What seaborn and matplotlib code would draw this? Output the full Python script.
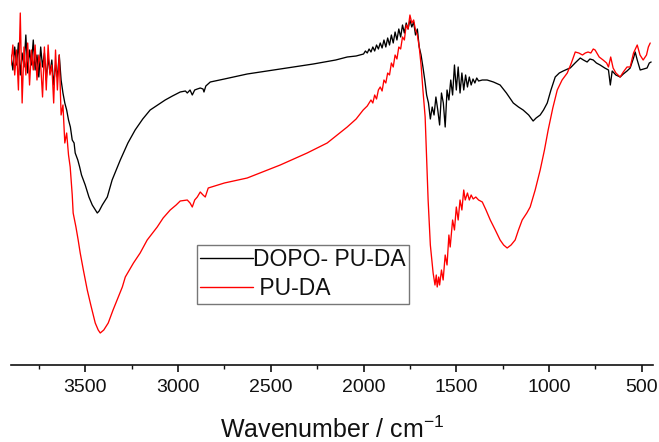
import numpy as np
import pandas as pd
import matplotlib
matplotlib.use("Agg")
import matplotlib.pyplot as plt
import seaborn as sns
from matplotlib.lines import Line2D

# ---- data (wavenumber in cm^-1, transmittance in arbitrary units) ----
dopo_wn = [
    3900, 3890, 3880, 3870, 3860, 3850, 3840, 3830, 3820, 3810, 3800, 3790, 3780, 3770, 3760,
    3750, 3740, 3730, 3720, 3710, 3700, 3690, 3680, 3670, 3660, 3650, 3640, 3630, 3620, 3610,
    3600, 3590, 3580, 3570, 3560, 3554, 3540, 3530, 3520, 3510, 3500, 3480, 3462, 3445, 3435,
    3425, 3408, 3381, 3355, 3311, 3270, 3231, 3190, 3150, 3110, 3069, 3030, 2988, 2960, 2950,
    2935, 2923, 2910, 2896, 2880, 2865, 2860, 2850, 2826, 2750, 2627, 2449, 2271, 2150, 2088,
    2040, 2000, 1990, 1980, 1970, 1960, 1950, 1940, 1930, 1920, 1910, 1900, 1890, 1880, 1870,
    1860, 1850, 1840, 1830, 1820, 1810, 1800, 1790, 1780, 1770, 1760, 1750, 1740, 1730, 1720,
    1710, 1700, 1690, 1680, 1670, 1660, 1650, 1640, 1630, 1620, 1610, 1600, 1590, 1580, 1570,
    1560, 1550, 1540, 1530, 1520, 1510, 1500, 1490, 1480, 1470, 1460, 1450, 1440, 1430, 1420,
    1410, 1400, 1390, 1380, 1360, 1334, 1300, 1264, 1230, 1193, 1165, 1140, 1110, 1086, 1070,
    1048, 1030, 1010, 990, 967, 945, 924, 900, 886, 860, 832, 815, 795, 780, 762,
    745, 725, 700, 680, 670, 660, 640, 617, 600, 580, 563, 545, 536, 525, 509,
    490, 472, 460, 450,
]
dopo_t = [
    310, 295, 318, 300, 322, 290, 312, 298, 330, 292, 315, 300, 325, 295, 310,
    288, 318, 298, 312, 285, 308, 292, 305, 280, 300, 288, 310, 285, 272, 262,
    255, 245, 238, 225, 222, 212, 205, 198, 190, 185, 180, 168, 160, 155, 152,
    154, 160, 168, 185, 205, 222, 235, 246, 255, 260, 265, 269, 273, 274, 272,
    275, 270, 275, 276, 277, 276, 273, 279, 283, 286, 291, 296, 301, 305, 308,
    309, 311, 314, 312, 316, 313, 318, 314, 320, 316, 322, 317, 325, 318, 327,
    320, 330, 322, 333, 325, 336, 328, 340, 332, 342, 336, 345, 338, 343, 330,
    336, 318, 310, 298, 285, 270, 262, 246, 258, 250, 268, 255, 240, 272, 262,
    238, 275, 265, 285, 270, 300, 275, 298, 272, 292, 275, 290, 278, 288, 280,
    286, 282, 287, 284, 285, 285, 283, 280, 272, 262, 258, 255, 250, 244, 247,
    250, 255, 262, 275, 288, 292, 294, 296, 297, 302, 307, 305, 303, 306, 305,
    302, 300, 297, 295, 280, 294, 290, 288, 291, 294, 297, 307, 313, 305, 295,
    296, 297, 302, 303,
]

puda_wn = [
    3900, 3890, 3880, 3870, 3860, 3850, 3840, 3830, 3820, 3810, 3800, 3790, 3780, 3770, 3760,
    3750, 3740, 3730, 3720, 3710, 3700, 3690, 3680, 3670, 3660, 3650, 3640, 3630, 3620, 3610,
    3600, 3590, 3581, 3570, 3565, 3550, 3538, 3527, 3510, 3489, 3470, 3446, 3430, 3419, 3400,
    3376, 3350, 3328, 3300, 3284, 3240, 3204, 3166, 3112, 3080, 3042, 3010, 2988, 2950, 2935,
    2923, 2910, 2896, 2880, 2865, 2853, 2837, 2750, 2627, 2449, 2304, 2196, 2088, 2040, 2002,
    1980, 1960, 1950, 1940, 1930, 1920, 1910, 1900, 1890, 1880, 1870, 1860, 1850, 1840, 1830,
    1820, 1810, 1800, 1790, 1780, 1770, 1760, 1750, 1740, 1730, 1720, 1710, 1700, 1690, 1680,
    1668, 1652, 1640, 1625, 1615, 1608, 1603, 1595, 1590, 1580, 1571, 1560, 1550, 1540, 1533,
    1520, 1510, 1500, 1490, 1480, 1470, 1460, 1452, 1440, 1430, 1420, 1409, 1395, 1380, 1360,
    1340, 1317, 1290, 1264, 1245, 1226, 1205, 1183, 1165, 1145, 1120, 1102, 1075, 1048, 1025,
    1005, 980, 956, 930, 902, 880, 859, 840, 820, 805, 790, 775, 762, 752, 730,
    709, 690, 680, 668, 655, 640, 617, 600, 580, 563, 545, 525, 510, 493, 475,
    465, 455,
]
puda_t = [
    300, 320, 290, 315, 275, 352, 262, 318, 290, 322, 280, 315, 295, 320, 285,
    310, 300, 268, 318, 275, 320, 290, 300, 262, 315, 275, 310, 250, 260, 222,
    232, 210, 198, 170, 152, 138, 125, 112, 95, 75, 60, 42, 35, 32, 35,
    42, 55, 65, 78, 88, 102, 112, 125, 138, 147, 155, 160, 164, 165, 162,
    158, 165, 168, 173, 170, 168, 177, 182, 187, 200, 212, 222, 238, 246, 255,
    259, 265, 262, 270, 266, 275, 278, 274, 285, 282, 292, 290, 302, 298, 310,
    306, 318, 316, 328, 325, 340, 336, 350, 342, 345, 335, 330, 318, 300, 275,
    248, 165, 120, 92, 80, 90, 78, 88, 80, 95, 85, 110, 100, 130, 118,
    145, 135, 158, 145, 165, 155, 175, 165, 172, 165, 170, 166, 168, 165, 163,
    155, 145, 135, 125, 120, 117, 120, 125, 135, 145, 152, 158, 175, 195, 215,
    235, 257, 275, 285, 292, 302, 313, 312, 310, 312, 313, 312, 316, 315, 308,
    305, 302, 298, 308, 297, 292, 288, 293, 298, 298, 312, 320, 310, 305, 310,
    318, 322,
]

series_names = ["DOPO- PU-DA", " PU-DA"]
series_colors = ["#000000", "#ff0000"]
x_ticks = [3500, 3000, 2500, 2000, 1500, 1000, 500]
x_minor_ticks = [3750, 3250, 2750, 2250, 1750, 1250, 750]

df = pd.concat([
    pd.DataFrame({"wn": dopo_wn, "t": dopo_t, "sample": series_names[0]}),
    pd.DataFrame({"wn": puda_wn, "t": puda_t, "sample": series_names[1]}),
], ignore_index=True)

sns.set_theme(style="white")
plt.rcParams["font.family"] = ["Liberation Sans", "DejaVu Sans"]
plt.rcParams["mathtext.fontset"] = "custom"
plt.rcParams["mathtext.rm"] = "Liberation Sans"
plt.rcParams["mathtext.it"] = "Liberation Sans:italic"

W, H = 659, 442
fig = plt.figure(figsize=(W / 100, H / 100), dpi=100)
ax = fig.add_axes([11 / W, (H - 365) / H, (653 - 11) / W, (365 - 5) / H])

sns.lineplot(data=df, x="wn", y="t", hue="sample", palette=series_colors,
             sort=False, estimator=None, linewidth=0.95, ax=ax, legend=False)

ax.set_xlim(3900, 440)
ax.set_ylim(0, 360)
ax.set_xticks(x_ticks)
ax.set_xticks(x_minor_ticks, minor=True)
ax.set_yticks([])
for s in ["top", "right", "left"]:
    ax.spines[s].set_visible(False)
ax.spines["bottom"].set_color("#111111")
ax.spines["bottom"].set_linewidth(1.2)
ax.tick_params(axis="x", which="major", direction="out", length=5, width=1.2,
               colors="#111111", labelsize=14, pad=5, bottom=True)
ax.tick_params(axis="x", which="minor", direction="out", length=3, width=1.0,
               colors="#111111", bottom=True)
ax.set_ylabel("")
ax.set_xlabel("Wavenumber / cm$^{-1}$", fontsize=18, color="#111111", labelpad=15)

handles = [Line2D([], [], color=c, lw=1.0) for c in series_colors]
leg = fig.legend(handles, series_names, loc="upper left",
                 bbox_to_anchor=(197 / W, 1 - 245 / H), bbox_transform=fig.transFigure,
                 fontsize=16.5, frameon=True, fancybox=False, handlelength=2.3,
                 handletextpad=0.0, labelspacing=0.25, borderpad=0.15,
                 borderaxespad=0.0)
leg.get_frame().set_edgecolor("#555555")
leg.get_frame().set_linewidth(1.0)
for t in leg.get_texts():
    t.set_color("#111111")

fig.savefig("out.png", dpi=100)
